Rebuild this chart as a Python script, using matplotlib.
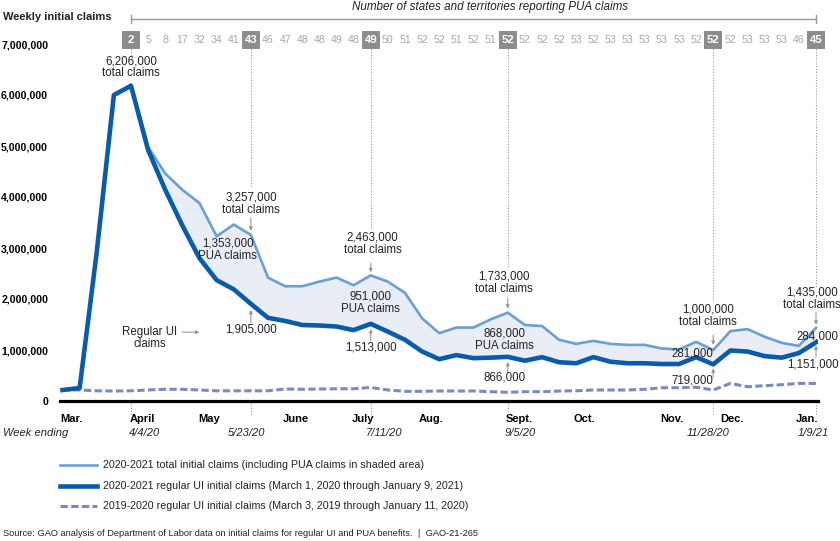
import numpy as np
import matplotlib.pyplot as plt
import matplotlib.transforms as mtransforms
from matplotlib.lines import Line2D
from matplotlib.patches import Rectangle

plt.rcParams['font.family'] = ['Liberation Sans', 'DejaVu Sans']

W, H = 840, 541

# weeks ending 3/7/20 ... 1/9/21 (45 weeks)
weeks = np.arange(45)

# thousands of claims
total_claims = np.array([215, 255, 2920, 6000, 6206, 4980, 4460, 4140, 3880, 3230,
                         3460, 3257, 2420, 2250, 2250, 2340, 2420, 2270, 2463, 2340,
                         2120, 1620, 1330, 1440, 1440, 1600, 1733, 1490, 1470, 1200,
                         1120, 1180, 1120, 1100, 1100, 1030, 1010, 1160, 1000, 1370,
                         1410, 1260, 1140, 1080, 1435]) * 1000
regular_ui = np.array([215, 255, 2920, 6000, 6180, 4920, 4140, 3440, 2800, 2370,
                       2190, 1905, 1630, 1570, 1490, 1480, 1460, 1390, 1513, 1360,
                       1200, 970, 820, 900, 840, 850, 866, 790, 860, 760,
                       740, 860, 770, 740, 740, 725, 725, 860, 719, 990,
                       970, 880, 850, 940, 1151]) * 1000
prior_year = np.array([216, 216, 200, 196, 200, 216, 230, 230, 216, 200,
                       200, 200, 200, 235, 230, 235, 240, 240, 265, 216,
                       190, 190, 196, 196, 196, 183, 170, 183, 183, 196,
                       200, 216, 216, 216, 230, 260, 260, 270, 216, 345,
                       280, 300, 320, 345, 345]) * 1000

# states and territories reporting PUA claims, from week ending 4/4/20
pua_start = 4
pua_states = [2, 5, 8, 17, 32, 34, 41, 43, 46, 47, 48, 48, 49, 48, 49, 50, 51, 52, 52, 51,
              52, 51, 52, 52, 52, 52, 53, 52, 53, 53, 53, 53, 53, 52, 52, 52, 53, 53, 53, 46, 45]

key_weeks = [4, 11, 18, 26, 38, 44]
key_dates = ['4/4/20', '5/23/20', '7/11/20', '9/5/20', '11/28/20', '1/9/21']
date_pos = [4.82, 10.77, 18.77, 26.72, 37.69, 43.82]
months = ['Mar.', 'April', 'May', 'June', 'July', 'Aug.', 'Sept.', 'Oct.', 'Nov.', 'Dec.', 'Jan.']
month_pos = [0.55, 4.64, 8.55, 13.6, 17.55, 21.55, 26.65, 30.5, 35.6, 39.1, 43.5]

c_total = '#6a9fd6'
c_reg = '#0a5bab'
c_prior = '#7a89c2'
c_fill = '#e9edf6'
c_txt = '#222222'
c_grey = '#999999'

fig = plt.figure(figsize=(W / 100, H / 100), dpi=100)
ax = fig.add_axes([60 / W, 1 - 401 / H, 758 / W, 357 / H])

def fy(py):
    return 1 - py / H

trans = mtransforms.blended_transform_factory(ax.transData, fig.transFigure)

ax.fill_between(weeks[3:], regular_ui[3:], total_claims[3:], color=c_fill, lw=0, zorder=1)
ax.plot(weeks, prior_year, color=c_prior, lw=2.2, dashes=(2.4, 1.1), zorder=2)
ax.plot(weeks[3:], total_claims[3:], color=c_total, lw=1.9, zorder=3)
ax.plot(weeks, regular_ui, color=c_reg, lw=3.3, zorder=4, solid_joinstyle='round')

ax.set_xlim((60 - 62.5) / 17.125, (818 - 62.5) / 17.125)
ax.set_ylim(0, 7e6)

yt = np.arange(0, 7000001, 1000000)
ax.set_yticks(yt)
ax.set_yticklabels([f'{v:,}' for v in yt], fontweight='bold', fontsize=7.6)
ax.tick_params(axis='y', length=0, pad=8.5)
ax.set_xticks(month_pos)
ax.set_xticklabels(months, fontweight='bold', fontsize=8)
ax.tick_params(axis='x', length=0, pad=9.5)
for s in ['left', 'right', 'top']:
    ax.spines[s].set_visible(False)
ax.spines['bottom'].set_linewidth(2.3)
ax.spines['bottom'].set_zorder(5)

# PUA states strip
for k, n in enumerate(pua_states):
    w = pua_start + k
    if w in key_weeks:
        ax.add_patch(Rectangle((w - 0.53, fy(49)), 1.06, 18 / H, transform=trans,
                               fc='#8c8c8c', ec='none', clip_on=False))
        ax.text(w, fy(40), str(n), transform=trans, ha='center', va='center',
                color='white', fontweight='bold', fontsize=8.2)
    else:
        ax.text(w, fy(40), str(n), transform=trans, ha='center', va='center',
                color='#a8a8a8', fontsize=7.6)

ax.plot([4, 44], [fy(19), fy(19)], transform=trans, clip_on=False, color=c_grey, lw=1)
for w in [4, 44]:
    ax.plot([w, w], [fy(15), fy(23)], transform=trans, clip_on=False, color=c_grey, lw=1)
ax.text(24.96, fy(7), 'Number of states and territories reporting PUA claims', transform=trans,
        ha='center', va='center', fontstyle='italic', fontsize=8.4, color=c_txt)

# dotted guides
guide_end = [58, 188, 228, 268, 302, 287]
for w, e in zip(key_weeks, guide_end):
    ax.plot([w, w], [fy(49), fy(e)], transform=trans, clip_on=False, color=c_grey,
            lw=0.8, ls=(0, (1, 1.5)))
    ax.plot([w, w], [fy(402), fy(414)], transform=trans, clip_on=False, color=c_grey,
            lw=0.8, ls=(0, (1, 1.5)))
for p, d in zip(date_pos, key_dates):
    ax.text(p, fy(433), d, transform=trans, ha='center', va='center',
            fontstyle='italic', fontsize=8, color=c_txt)

fig.text(3 / W, fy(17), 'Weekly initial claims', fontweight='bold', fontsize=8, va='center', color=c_txt)
fig.text(3 / W, fy(433), 'Week ending', fontstyle='italic', fontsize=8, va='center', color=c_txt)


def label(w, v, txt, dx, dy, va='center'):
    ax.annotate(txt, xy=(w, v), xytext=(dx, dy), textcoords='offset pixels', ha='center',
                va=va, fontsize=8.3, color=c_txt, linespacing=1.05, zorder=6)


def arrow(w, v, d0, d1):
    ax.annotate('', xy=(w, v), xytext=(0, d0), textcoords='offset pixels',
                arrowprops=dict(arrowstyle='-|>', color=c_grey, lw=0.8, mutation_scale=5,
                                shrinkA=0, shrinkB=abs(d1) / 1.389))


label(4, total_claims[4], '6,206,000\ntotal claims', 0, 5, 'bottom')

label(11, total_claims[11], '3,257,000\ntotal claims', 0, 19, 'bottom')
arrow(11, total_claims[11], 17, 4)
label(11, total_claims[11], '1,353,000\nPUA claims', -23, -15)
label(11, regular_ui[11], '1,905,000', 0, -26)
arrow(11, regular_ui[11], -19, -6)

label(18, total_claims[18], '2,463,000\ntotal claims', 2, 19, 'bottom')
arrow(18, total_claims[18], 12, 3)
label(18, total_claims[18], '951,000\nPUA claims', 0, -27)
label(18, regular_ui[18], '1,513,000', 0, -24)
arrow(18, regular_ui[18], -17, -5)

label(26, total_claims[26], '1,733,000\ntotal claims', -4, 18, 'bottom')
arrow(26, total_claims[26], 14, 4)
label(26, total_claims[26], '868,000\nPUA claims', -3, -27)
label(26, regular_ui[26], '866,000', -3, -21)
arrow(26, regular_ui[26], -15, -5)

label(38, total_claims[38], '1,000,000\ntotal claims', -5, 22, 'bottom')
arrow(38, total_claims[38], 15, 5)
label(38, total_claims[38], '281,000', -21, -4)
label(38, regular_ui[38], '719,000', -21, -16)
arrow(38, regular_ui[38], -13, -4)

label(44, total_claims[44], '1,435,000\ntotal claims', -4, 17, 'bottom')
arrow(44, total_claims[44], 15, 3)
label(44, total_claims[44], '284,000', 1, -9)
label(44, regular_ui[44], '1,151,000', -3, -22)
arrow(44, regular_ui[44], -15, -3)

ax.text(5.1, 1.24e6, 'Regular UI\nclaims', ha='center', va='center', fontsize=8.3,
        color=c_txt, linespacing=1.05)
ax.annotate('', xy=(8.0, 1.35e6), xytext=(7.0, 1.35e6),
            arrowprops=dict(arrowstyle='-|>', color=c_grey, lw=0.8, mutation_scale=5,
                            shrinkA=0, shrinkB=0))

# legend
legend_rows = [
    (465, dict(color=c_total, lw=1.9), '2020-2021 total initial claims (including PUA claims in shaded area)'),
    (486, dict(color=c_reg, lw=3.3), '2020-2021 regular UI initial claims (March 1, 2020 through January 9, 2021)'),
    (506, dict(color=c_prior, lw=2.2, dashes=(2.4, 1.1)), '2019-2020 regular UI initial claims (March 3, 2019 through January 11, 2020)'),
]
for py, style, txt in legend_rows:
    fig.add_artist(Line2D([60 / W, 97 / W], [fy(py), fy(py)], transform=fig.transFigure, **style))
    fig.text(103 / W, fy(py), txt, va='center', fontsize=7.7, color=c_txt)

fig.text(3 / W, fy(533), 'Source: GAO analysis of Department of Labor data on initial claims for regular UI '
         'and PUA benefits.  |  GAO-21-265', va='center', fontsize=6.7, color=c_txt)

fig.savefig('out.png', dpi=100)
